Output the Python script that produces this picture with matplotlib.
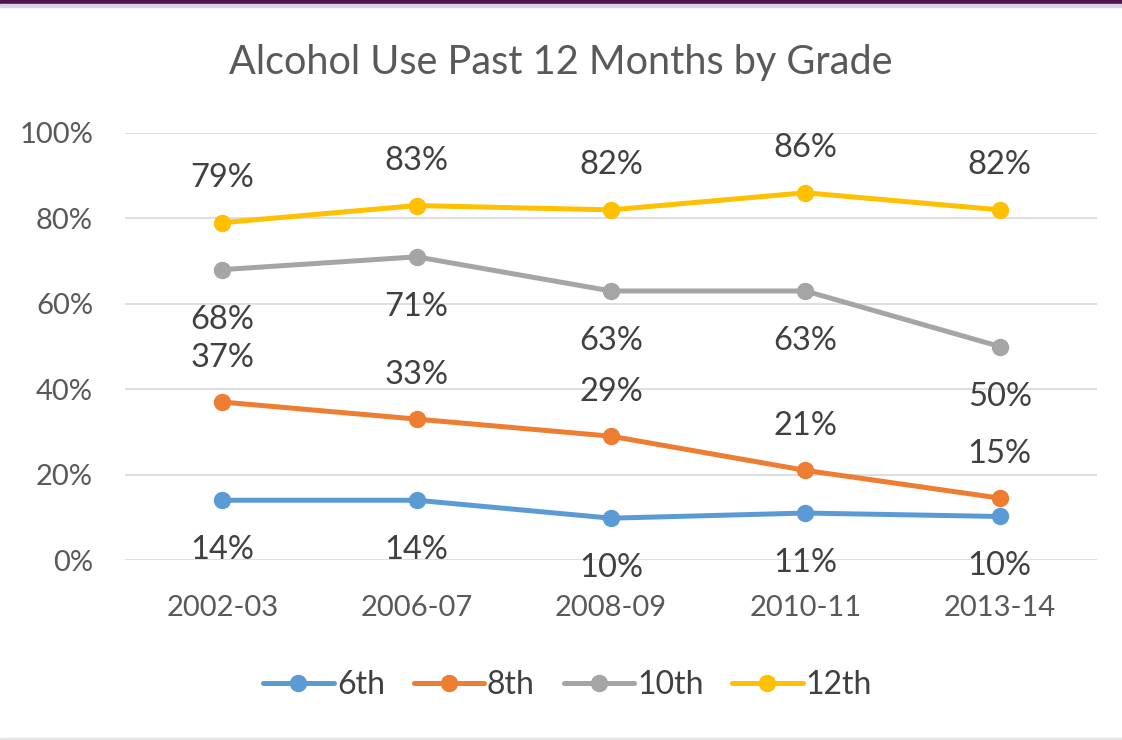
import matplotlib.pyplot as plt
from matplotlib.patches import Rectangle

plt.rcParams['font.family'] = ['Lato', 'DejaVu Sans']

years = ['2002-03', '2006-07', '2008-09', '2010-11', '2013-14']
grade_6 = [14, 14, 10, 11, 10]
grade_8 = [37, 33, 29, 21, 15]
grade_10 = [68, 71, 63, 63, 50]
grade_12 = [79, 83, 82, 86, 82]
# actual plotted positions (labels are rounded)
pos_6 = [14, 14, 9.8, 11, 10.2]
pos_8 = [37, 33, 29, 21, 14.5]
pos_10 = [68, 71, 63, 63, 50]
pos_12 = [79, 83, 82, 86, 82]

series = [
    ('6th', pos_6, grade_6, '#5B9BD5', 'below'),
    ('8th', pos_8, grade_8, '#ED7D31', 'above'),
    ('10th', pos_10, grade_10, '#A5A5A5', 'below'),
    ('12th', pos_12, grade_12, '#FFC000', 'above'),
]

fig = plt.figure(figsize=(11.22, 7.4), dpi=100)
ax = fig.add_axes([0.1114, 0.2432, 0.8663, 0.5771])

x = list(range(len(years)))
for name, pos, lab, col, where in series:
    ax.plot(x, pos, color=col, lw=3.6, marker='o', ms=11.5, label=name,
            solid_capstyle='round')
    for xi, yi, v in zip(x, pos, lab):
        dy = 32 if where == 'above' else -36
        ax.annotate(f'{v}%', (xi, yi), xytext=(0, dy), textcoords='offset points',
                    ha='center', va='center', fontsize=23.5, color='#404040')

ax.set_xlim(-0.5, 4.5)
ax.set_ylim(0, 100)
ax.set_yticks(range(0, 101, 20))
ax.set_yticklabels([f'{v}%' for v in range(0, 101, 20)])
ax.set_xticks(x)
ax.set_xticklabels(years)
ax.tick_params(axis='both', length=0, labelsize=21, labelcolor='#595959')
ax.tick_params(axis='y', pad=23)
ax.tick_params(axis='x', pad=25)
ax.grid(axis='y', color='#D9D9D9', lw=1.2)
ax.set_axisbelow(True)
for s in ax.spines.values():
    s.set_visible(False)

fig.text(0.5, 0.915, 'Alcohol Use Past 12 Months by Grade', ha='center', va='center',
         fontsize=28.5, color='#595959')

fig.legend(loc='center', bbox_to_anchor=(0.506, 0.074), ncol=4, frameon=False,
           fontsize=23, handlelength=2.2, handletextpad=0.1, columnspacing=0.9,
           labelcolor='#404040')

fig.patches.append(Rectangle((0, 0.995), 1, 0.005, transform=fig.transFigure,
                             color='#4E1250'))
fig.patches.append(Rectangle((0, 0.991), 1, 0.004, transform=fig.transFigure,
                             color='#D8D3DC'))
fig.patches.append(Rectangle((0, 0), 1, 0.003, transform=fig.transFigure,
                             color='#E5E5E5'))

fig.savefig('out.png', dpi=100)
